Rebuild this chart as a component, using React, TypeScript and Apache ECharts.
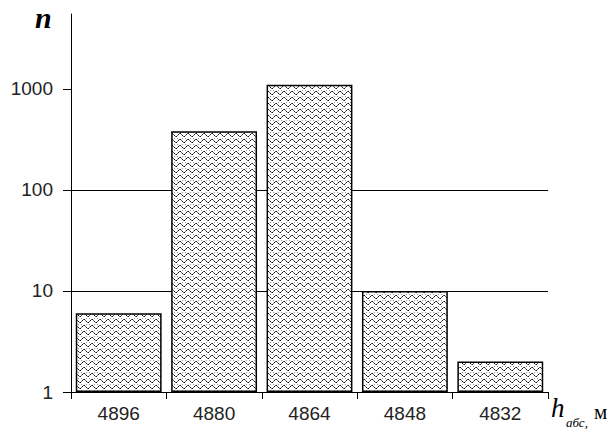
import React, { useEffect, useRef } from "react";
import * as echarts from "echarts";

const categories = ["4896", "4880", "4864", "4848", "4832"];
const counts = [6, 380, 1100, 10, 2];
const yTicks = [1, 10, 100, 1000];
const yMax = 5500;

function makePattern(): HTMLCanvasElement {
  const c = document.createElement("canvas");
  c.width = 8;
  c.height = 6;
  const ctx = c.getContext("2d")!;
  ctx.fillStyle = "#ffffff";
  ctx.fillRect(0, 0, 8, 6);
  const wave = [4, 3, 2, 1, 1, 2, 3, 4];
  for (let x = 0; x < 8; x++) {
    ctx.fillStyle = x % 2 === 0 ? "#111111" : "#666666";
    ctx.fillRect(x, wave[x], 1, 1);
  }
  ctx.fillStyle = "#999999";
  ctx.fillRect(6, 0, 1, 1);
  ctx.fillRect(1, 0, 1, 1);
  return c;
}

const labelFont = '"Liberation Sans", Arial, sans-serif';

export default function App() {
  const ref = useRef<HTMLDivElement>(null);
  useEffect(() => {
    if (!ref.current) return;
    const chart = echarts.init(ref.current, null, { renderer: "svg" });
    const pattern = makePattern();
    chart.setOption({
      animation: false,
      backgroundColor: "#ffffff",
      grid: { left: 71, right: 67, top: 14, bottom: 50, containLabel: false },
      xAxis: {
        type: "category",
        data: categories,
        axisLine: { onZero: false, lineStyle: { color: "#000", width: 1 } },
        axisTick: { show: true, length: 7, lineStyle: { color: "#000" } },
        axisLabel: {
          margin: 12,
          fontSize: 19,
          color: "#222",
          fontFamily: labelFont,
        },
        splitLine: { show: false },
      },
      yAxis: {
        type: "log",
        logBase: 10,
        min: 1,
        max: yMax,
        axisLine: { show: true, lineStyle: { color: "#000", width: 1 } },
        axisTick: { show: true, length: 8, customValues: yTicks, lineStyle: { color: "#000" } },
        axisLabel: {
          customValues: yTicks,
          margin: 18,
          fontSize: 19,
          color: "#222",
          fontFamily: labelFont,
          formatter: (v: number) => String(Math.round(v)),
        },
        splitLine: { show: true, showMaxLine: false, lineStyle: { color: "#000", width: 1 } },
      },
      series: [
        {
          type: "bar",
          data: counts,
          barCategoryGap: "10%",
          itemStyle: {
            color: { image: pattern, repeat: "repeat" },
            borderColor: "#000",
            borderWidth: 1.5,
          },
        },
      ],
      graphic: [
        {
          type: "text",
          left: 35,
          top: 2,
          style: {
            text: "n",
            font: 'italic bold 30px "Liberation Serif"',
            fill: "#000",
          },
        },
        {
          type: "text",
          left: 551,
          top: 394,
          style: {
            text: "h",
            font: 'italic 27px "Liberation Serif"',
            fill: "#000",
          },
        },
        {
          type: "text",
          left: 566,
          top: 416,
          style: {
            text: "абс,",
            font: 'italic 13px "Liberation Serif"',
            fill: "#000",
          },
        },
        {
          type: "text",
          left: 594,
          top: 401,
          style: {
            text: "м",
            font: '21px "Liberation Serif"',
            fill: "#000",
          },
        },
      ],
    });
    return () => chart.dispose();
  }, []);
  return <div ref={ref} style={{ width: 615, height: 442, margin: -8 }} />;
}
